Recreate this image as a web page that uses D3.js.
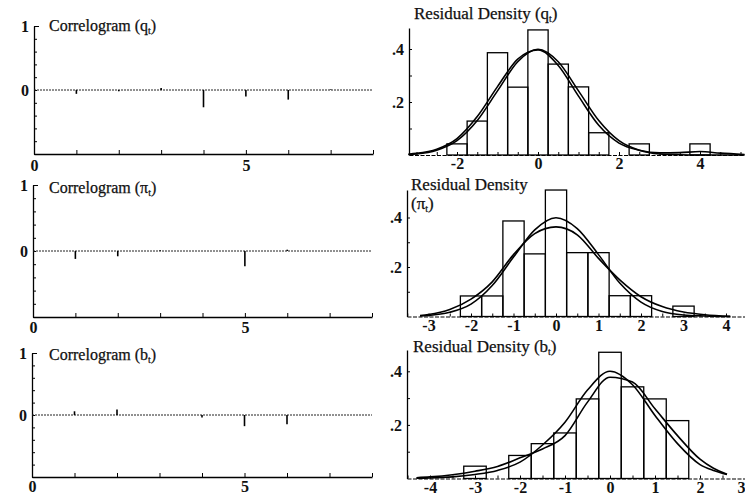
<!DOCTYPE html>
<html>
<head>
  <meta charset="utf-8">
  <script src="https://d3js.org/d3.v7.min.js"></script>
  <style>
    body { margin: 0; background: #fff; }
    svg text { font-family: "Liberation Serif", "DejaVu Serif", serif; fill: #111; }
    .num { font-weight: bold; font-size: 16px; }
    .title { font-size: 16px; stroke: #111; stroke-width: 0.25px; }
    .title.big { font-size: 17px; }
  </style>
</head>
<body>
<svg id="chart" width="745" height="498"></svg>
<script>

  // correlograms: residual autocorrelation at lags 1..8
  var lags = [1, 2, 3, 4, 5, 6, 7, 8];
  var acfQ  = [-0.06, -0.02, 0.03, -0.27, -0.10, -0.15, 0.01, 0.00];
  var acfPi = [-0.12, -0.08, 0.01, 0.00, -0.23, 0.02, 0.00, 0.00];
  var acfB  = [0.06, 0.09, 0.00, -0.04, -0.18, -0.15, 0.00, 0.00];
  var lagTicks = [0, 1, 2, 3, 4, 5, 6, 7, 8];
  var lagLabels = [0, 5];
  var acfTicks = [-1, -0.8, -0.6, -0.4, -0.2, 0, 0.2, 0.4, 0.6, 0.8, 1];
  var acfLabels = [0, 1];

  // residual densities: histogram (bins .5 wide, by centre) + two density curves
  var binsQ = [-2, -1.5, -1, -0.5, 0, 0.5, 1, 1.5, 2, 2.5, 3, 3.5, 4];
  var histQ = [0.042, 0.128, 0.386, 0.256, 0.472, 0.343, 0.257, 0.084, 0, 0.042, 0, 0, 0.042];
  var gridQ = [-3.2, -3, -2.5, -2, -1.5, -1, -0.5, 0, 0.5, 1, 1.5, 2, 2.5, 3, 3.5, 4, 4.5, 5.1];
  var normQ = [0.002, 0.004, 0.018, 0.054, 0.130, 0.242, 0.352, 0.399, 0.352, 0.242, 0.130, 0.054, 0.018, 0.004, 0.001, 0.000, 0.000, 0.000];
  var kdeQ  = [0.003, 0.006, 0.022, 0.062, 0.145, 0.258, 0.362, 0.396, 0.338, 0.222, 0.112, 0.045, 0.018, 0.008, 0.009, 0.013, 0.007, 0.002];
  var xTicksQ = [-3, -2.5, -2, -1.5, -1, -0.5, 0, 0.5, 1, 1.5, 2, 2.5, 3, 3.5, 4, 4.5, 5];
  var xLabelsQ = [-2, 0, 2, 4];

  var binsPi = [-2, -1.5, -1, -0.5, 0, 0.5, 1, 1.5, 2, 2.5, 3];
  var histPi = [0.083, 0.083, 0.386, 0.253, 0.511, 0.258, 0.258, 0.084, 0.084, 0, 0.042];
  var gridPi = [-3.2, -3, -2.5, -2, -1.5, -1, -0.5, 0, 0.5, 1, 1.5, 2, 2.5, 3, 3.5, 4.1];
  var normPi = [0.002, 0.004, 0.017, 0.050, 0.125, 0.240, 0.350, 0.399, 0.355, 0.250, 0.135, 0.058, 0.020, 0.006, 0.002, 0.000];
  var kdePi  = [0.004, 0.008, 0.028, 0.070, 0.140, 0.250, 0.335, 0.362, 0.330, 0.235, 0.148, 0.080, 0.040, 0.018, 0.007, 0.001];
  var xTicksPi = [-3.5, -3, -2.5, -2, -1.5, -1, -0.5, 0, 0.5, 1, 1.5, 2, 2.5, 3, 3.5, 4, 4.5];
  var xLabelsPi = [-3, -2, -1, 0, 1, 2, 3, 4];

  var binsB = [-3, -2.5, -2, -1.5, -1, -0.5, 0, 0.5, 1, 1.5];
  var histB = [0.046, 0, 0.086, 0.130, 0.170, 0.297, 0.471, 0.342, 0.297, 0.216];
  var gridB = [-4.3, -4, -3.5, -3, -2.5, -2, -1.5, -1, -0.5, 0, 0.5, 1, 1.5, 2, 2.3, 2.6];
  var normB = [0.001, 0.002, 0.006, 0.015, 0.030, 0.061, 0.125, 0.210, 0.330, 0.400, 0.350, 0.235, 0.130, 0.052, 0.030, 0.015];
  var kdeB  = [0.003, 0.006, 0.014, 0.027, 0.045, 0.077, 0.110, 0.160, 0.285, 0.378, 0.360, 0.260, 0.160, 0.072, 0.038, 0.016];
  var xTicksB = [-4.5, -4, -3.5, -3, -2.5, -2, -1.5, -1, -0.5, 0, 0.5, 1, 1.5, 2, 2.5, 3];
  var xLabelsB = [-4, -3, -2, -1, 0, 1, 2, 3];

  var densTicks = [0.1, 0.2, 0.3, 0.4];
  var densLabels = [0.2, 0.4];

  var svg = d3.select("#chart");
  var chartWidth = +svg.attr("width");

  function addTitle(x, y, label, sym, cls) {
    var t = svg.append("text")
      .attr("class", cls || "title")
      .attr("x", x)
      .attr("y", y);
    t.append("tspan").text(label + "(" + sym);
    t.append("tspan").attr("dy", 3).style("font-size", "10px").text("t");
    t.append("tspan").attr("dy", -3).text(")");
    return t;
  }

  function drawCorrelogram(acf, box) {
    var x = d3.scaleLinear().domain([0, 8]).range([box.left, box.right]);
    var y = d3.scaleLinear().domain([-1, 1]).range([box.bottom, box.top]);
    var g = svg.append("g");

    var xAxis = d3.axisBottom(x)
      .tickValues(lagTicks)
      .tickSizeInner(-4)
      .tickSizeOuter(0)
      .tickPadding(box.labelPad)
      .tickFormat(function(d) { return lagLabels.indexOf(d) >= 0 ? d : ""; });

    var gx = g.append("g")
      .attr("transform", "translate(0," + y(-1) + ")")
      .call(xAxis);
    gx.select(".domain").attr("stroke-width", 1.3);
    gx.selectAll("text").attr("class", "num");

    var yAxis = d3.axisLeft(y)
      .tickValues(acfTicks)
      .tickSizeInner(-3)
      .tickSizeOuter(0)
      .tickPadding(5)
      .tickFormat(function(d) { return acfLabels.indexOf(d) >= 0 ? d : ""; });

    var gy = g.append("g")
      .attr("transform", "translate(" + box.left + ",0)")
      .call(yAxis);
    gy.select(".domain").attr("stroke-width", 1.3);
    gy.selectAll("text").attr("class", "num");
    // the top tick is a little longer, like a bracket
    gy.selectAll(".tick line").attr("x2", function(d) { return d === 1 ? 5 : 3; });

    // dotted zero line
    g.append("line")
      .attr("x1", x(0))
      .attr("x2", x(8))
      .attr("y1", y(0))
      .attr("y2", y(0))
      .attr("stroke", "#222")
      .attr("stroke-width", 1)
      .attr("stroke-dasharray", "2,1");

    // spikes
    g.selectAll(".spike")
      .data(lags)
      .enter()
      .append("line")
      .attr("class", "spike")
      .attr("x1", function(d) { return x(d); })
      .attr("x2", function(d) { return x(d); })
      .attr("y1", y(0))
      .attr("y2", function(d, i) { return y(acf[i]); })
      .attr("stroke", "#000")
      .attr("stroke-width", 1.6);
  }

  function drawDensity(cfg) {
    var x = d3.scaleLinear()
      .domain([(cfg.left - cfg.x0) / cfg.xUnit, (cfg.right - cfg.x0) / cfg.xUnit])
      .range([cfg.left, cfg.right]);
    var y = d3.scaleLinear()
      .domain([0, (cfg.base - cfg.top) / cfg.yUnit])
      .range([cfg.base, cfg.top]);
    var g = svg.append("g");

    var xAxis = d3.axisBottom(x)
      .tickValues(cfg.xTicks)
      .tickSizeInner(-3)
      .tickSizeOuter(0)
      .tickPadding(3)
      .tickFormat(function(d) { return cfg.xLabels.indexOf(d) >= 0 ? d : ""; });

    var gx = g.append("g")
      .attr("transform", "translate(0," + cfg.base + ")")
      .call(xAxis);
    gx.select(".domain")
      .attr("stroke-width", 1.2)
      .attr("stroke-dasharray", "4,1.5");
    gx.selectAll("text").attr("class", "num");
    // a label sitting on the right edge is pulled in so it stays readable
    gx.selectAll(".tick text")
      .filter(function(d) { return x(d) > chartWidth - 6; })
      .attr("text-anchor", "end")
      .attr("x", function(d) { return chartWidth - x(d); });

    var yAxis = d3.axisLeft(y)
      .tickValues(densTicks)
      .tickSizeInner(-3)
      .tickSizeOuter(0)
      .tickPadding(5)
      .tickFormat(function(d) {
        return densLabels.indexOf(d) >= 0 ? d3.format(".1f")(d).replace(/^0/, "") : "";
      });

    var gy = g.append("g")
      .attr("transform", "translate(" + cfg.left + ",0)")
      .call(yAxis);
    gy.select(".domain").attr("stroke-width", 1.3);
    gy.selectAll("text").attr("class", "num");

    // histogram
    var bars = cfg.bins.map(function(c, i) { return { c: c, h: cfg.hist[i] }; })
      .filter(function(d) { return d.h > 0; });

    g.selectAll("rect")
      .data(bars)
      .enter()
      .append("rect")
      .attr("x", function(d) { return x(d.c - 0.25); })
      .attr("width", function(d) { return x(d.c + 0.25) - x(d.c - 0.25); })
      .attr("y", function(d) { return y(d.h); })
      .attr("height", function(d) { return y(0) - y(d.h); })
      .attr("fill", "none")
      .attr("stroke", "#000")
      .attr("stroke-width", 1.3);

    // fitted normal and kernel estimate
    var line = d3.line()
      .x(function(d) { return x(d[0]); })
      .y(function(d) { return y(d[1]); })
      .curve(d3.curveMonotoneX);

    [cfg.norm, cfg.kde].forEach(function(vals) {
      g.append("path")
        .datum(d3.zip(cfg.grid, vals))
        .attr("d", line)
        .attr("fill", "none")
        .attr("stroke", "#000")
        .attr("stroke-width", 1.6);
    });
  }

  drawCorrelogram(acfQ,  { left: 34, right: 373, top: 26,  bottom: 154, labelPad: 6 });
  drawCorrelogram(acfPi, { left: 33, right: 372, top: 185, bottom: 317, labelPad: 5 });
  drawCorrelogram(acfB,  { left: 32, right: 372, top: 353, bottom: 477, labelPad: 4 });

  addTitle(49, 31, "Correlogram ", "q");
  addTitle(49, 193, "Correlogram ", "\u03c0");
  addTitle(49, 360, "Correlogram ", "b");

  drawDensity({ left: 409, right: 745, x0: 538, xUnit: 40.5, base: 155, top: 28, yUnit: 265,
    bins: binsQ, hist: histQ, grid: gridQ, norm: normQ, kde: kdeQ, xTicks: xTicksQ, xLabels: xLabelsQ });
  drawDensity({ left: 407, right: 745, x0: 556, xUnit: 42.5, base: 316.5, top: 190, yUnit: 247.5,
    bins: binsPi, hist: histPi, grid: gridPi, norm: normPi, kde: kdePi, xTicks: xTicksPi, xLabels: xLabelsPi });
  drawDensity({ left: 407, right: 745, x0: 610, xUnit: 45, base: 478.5, top: 350, yUnit: 268,
    bins: binsB, hist: histB, grid: gridB, norm: normB, kde: kdeB, xTicks: xTicksB, xLabels: xLabelsB });

  addTitle(414, 19, "Residual Density ", "q", "title big");
  svg.append("text").attr("class", "title big").attr("x", 411).attr("y", 190).text("Residual Density");
  addTitle(411, 209, "", "\u03c0", "title big");
  addTitle(413, 352, "Residual Density ", "b", "title big");

</script>
</body>
</html>
